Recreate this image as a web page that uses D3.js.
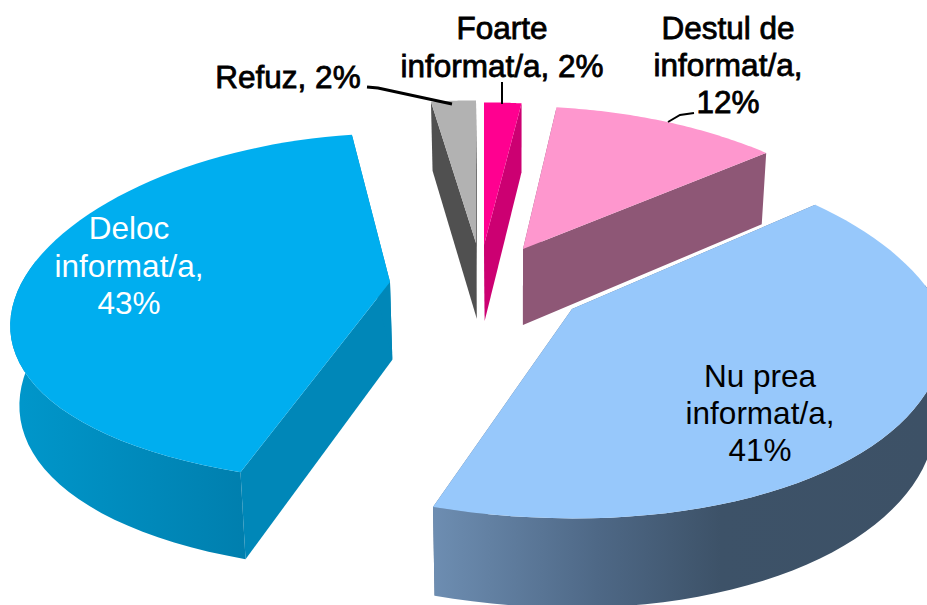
<!DOCTYPE html>
<html>
<head>
<meta charset="utf-8">
<script src="https://cdn.jsdelivr.net/npm/d3@7/dist/d3.min.js"></script>
<style>
html,body{margin:0;padding:0;background:#fff;overflow:hidden}
text{font-family:"Liberation Sans",Arial,sans-serif}
</style>
</head>
<body>
<div id="chart"></div>
<script>
// ---- data ----
const categories = ["Foarte informat/a", "Destul de informat/a", "Nu prea informat/a", "Deloc informat/a", "Refuz"];
const values = [2.0, 11.9, 41.0, 42.7, 2.4];
const labelLines = [
  ["Foarte", "informat/a, 2%"],
  ["Destul de", "informat/a,", "12%"],
  ["Nu prea", "informat/a,", "41%"],
  ["Deloc", "informat/a,", "43%"],
  ["Refuz, 2%"]
];

// ---- styling / layout ----
const W = 927, H = 605;
const topColors = ["#FF0090", "#FE97CE", "#97C8FB", "#00AEEF", "#B2B2B2"];
const wallColors = ["#CC0072", "#8E5776", "#5A7391", "#0087B8", "#505050"];
const tips = [[484, 245], [523, 249], [572, 309], [390, 282], [476, 243]];
const leans = [0, -4, -4, 7, 0];
const tilts = [164, 164, 178, 171, 164];
const eases = [0, 0, 39, 0, 0];
const drawOrder = [4, 0, 1, 3, 2];
const labelLayout = [
  {x: 502, y: 39, dy: 38, bold: true},
  {x: 728, y: 39, dy: 37, bold: true},
  {x: 760, y: 387, dy: 37, color: "#000"},
  {x: 129, y: 239, dy: 37.5, color: "#fff"},
  {x: 288, y: 88, dy: 0, bold: true}
];
const leaders = [
  [[502, 82], [502, 104]],
  [[694, 113], [680, 115], [668, 122]],
  null, null,
  [[367, 87], [378, 88], [452, 104]]
];

const R = 368, kX = 0.23, kY = 0.15, vanishX = 520, converge = 0.018;
const drop = d3.scaleLinear().domain([104, 472]).range([69, 87]);

const pie = d3.pie().sort(null);
const arcs = pie(values);

function topPoint(i, a) {
  const tip = tips[i], u = Math.sin(a), v = Math.cos(a);
  const ease = eases[i] * Math.max(0, u) * Math.max(0, -v);
  return [tip[0] + R * u / (1 + kX * v) + leans[i] * v - ease, tip[1] - tilts[i] * v / (1 + kY * v)];
}
function lower(p) {
  return [p[0] + (vanishX - p[0]) * converge, p[1] + drop(p[1])];
}
const line = d3.line();

const svg = d3.select("#chart").append("svg").attr("width", W).attr("height", H).style("display", "block");
const defs = svg.append("defs");

function gradient(id, x1, x2, stops) {
  const g = defs.append("linearGradient").attr("id", id)
    .attr("gradientUnits", "userSpaceOnUse")
    .attr("x1", x1).attr("x2", x2).attr("y1", 0).attr("y2", 0);
  stops.forEach(s => g.append("stop").attr("offset", s[0]).attr("stop-color", s[1]));
}
gradient("wall-2", 435, 927, [[0, "#6D8DB1"], [0.33, "#4E6886"], [0.58, "#3D5268"], [1, "#3D5166"]]);
gradient("wall-3", 13, 245, [[0, "#0097CB"], [1, "#007FAE"]]);

const g = svg.append("g");
drawOrder.forEach(i => {
  const d = arcs[i], tip = tips[i];
  const steps = d3.range(0, 61).map(t => d.startAngle + (d.endAngle - d.startAngle) * t / 60);
  const rim = steps.map(a => topPoint(i, a));
  const s = g.append("g").attr("class", "slice").attr("data-category", categories[i]);

  // radial cut faces
  [rim[0], rim[rim.length - 1]].forEach(p => {
    s.append("path")
      .attr("d", line([tip, p, lower(p), lower(tip)]) + "Z")
      .attr("fill", wallColors[i]);
  });

  // outer curved wall (near side only)
  const near = steps.filter(a => Math.cos(a) < 0.15).map(a => topPoint(i, a));
  if (near.length > 1) {
    s.append("path")
      .attr("d", line(near.concat(near.map(lower).reverse())) + "Z")
      .attr("fill", `url(#wall-${i})`);
  }

  // top face
  s.append("path")
    .attr("d", line([tip].concat(rim)) + "Z")
    .attr("fill", topColors[i]);
});

// leader lines
leaders.forEach((pts, i) => {
  if (!pts) return;
  svg.append("path").attr("d", line(pts))
    .attr("fill", "none").attr("stroke", "#000")
    .attr("stroke-width", i === 4 ? 3 : 2);
});

// labels
labelLines.forEach((lines, i) => {
  const l = labelLayout[i];
  lines.forEach((txt, j) => {
    const t = svg.append("text")
      .attr("x", l.x).attr("y", l.y + j * l.dy)
      .attr("text-anchor", "middle")
      .attr("font-size", 31.5)
      .attr("fill", l.bold ? "#000" : l.color)
      .text(txt);
    if (l.bold) t.attr("stroke", "#000").attr("stroke-width", 0.8);
  });
});
</script>
</body>
</html>
